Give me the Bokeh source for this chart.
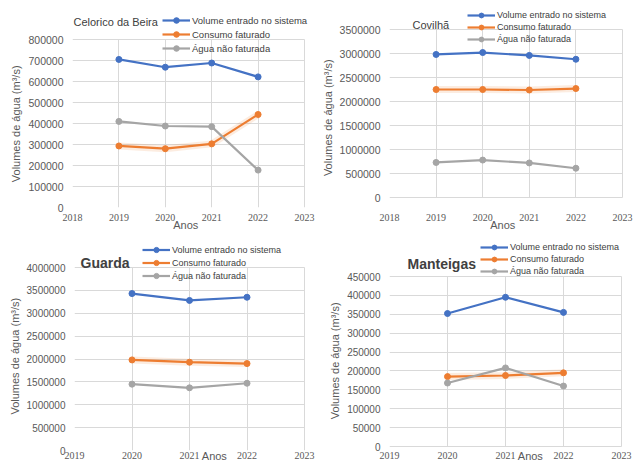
from bokeh.plotting import figure
from bokeh.layouts import column, row
from bokeh.models import Legend, LegendItem, Label, SingleIntervalTicker, Range1d, NumeralTickFormatter, Grid
from bokeh.embed import file_html
from bokeh.resources import INLINE

series_names = ["Volume entrado no sistema", "Consumo faturado", "Água não faturada"]
colors = ["#4472C4", "#ED7D31", "#A5A5A5"]

cel_years = [2019, 2020, 2021, 2022]
cel_volume = [705000, 668000, 688000, 622000]
cel_consumo = [293000, 280000, 303000, 443000]
cel_agua = [410000, 388000, 385000, 178000]

cov_years = [2019, 2020, 2021, 2022]
cov_volume = [2980000, 3020000, 2960000, 2880000]
cov_consumo = [2250000, 2250000, 2240000, 2270000]
cov_agua = [730000, 780000, 720000, 610000]

gua_years = [2020, 2021, 2022]
gua_volume = [3430000, 3280000, 3350000]
gua_consumo = [1980000, 1930000, 1900000]
gua_agua = [1450000, 1370000, 1470000]

man_years = [2020, 2021, 2022]
man_volume = [352000, 395000, 355000]
man_consumo = [185000, 188000, 195000]
man_agua = [168000, 208000, 160000]

X_LABEL = "Anos"
Y_LABEL = "Volumes de água (m³/s)"

FONT = "Liberation Sans"
FRAME_TOP = 3
W, H = 317, 234
NB = "\u00a0"
HAS_CROSS = "cross_bounds" in Grid.properties()


def panel(title, years, vals, xr, ymax, ystep, geom, xaxis_style, label_pads, title_pos, title_style,
          legend_pos, legend_row, legend_font, ytick_font):
    left, right, top_px, zero_px, frame_bottom = geom
    k = ymax / (zero_px - top_px)
    y_start = -(frame_bottom - zero_px) * k
    y_end = (zero_px - FRAME_TOP) * k
    x_end = xr[0] + (xr[1] - xr[0]) * (W - left) / (right - left)
    p = figure(width=W, height=H, output_backend="svg", toolbar_location=None,
               x_range=Range1d(xr[0], x_end), y_range=Range1d(y_start, y_end),
               min_border_left=left, min_border_top=FRAME_TOP,
               min_border_right=0, min_border_bottom=H - frame_bottom)
    p.outline_line_color = None
    p.background_fill_color = "white"
    p.border_fill_color = "white"
    p.xaxis.ticker = SingleIntervalTicker(interval=1)
    p.xaxis.bounds = xr
    p.yaxis.ticker = SingleIntervalTicker(interval=ystep)
    p.yaxis.formatter = NumeralTickFormatter(format="0")
    p.yaxis.bounds = (0, ymax)
    for ax in (p.xaxis[0], p.yaxis[0]):
        ax.axis_line_color = None
        ax.major_tick_line_color = None
        ax.minor_tick_line_color = None
        ax.major_tick_out = 0
        ax.major_tick_in = 0
        ax.minor_tick_out = 0
        ax.major_label_text_font = FONT
        ax.major_label_text_color = "#595959"
        ax.axis_label_text_font = FONT
        ax.axis_label_text_font_style = "normal"
        ax.axis_label_text_color = "#595959"
        ax.axis_label_text_font_size = "11px"
    tick_standoff, label_standoff = xaxis_style
    xl_left, xl_right, yl_end = label_pads
    p.xaxis.major_label_text_font = "Liberation Sans Narrow"
    p.xaxis.major_label_text_font_size = "10px"
    p.yaxis.major_label_text_font_size = ytick_font
    p.xaxis.major_label_standoff = tick_standoff
    p.xaxis.axis_label = NB * xl_left + X_LABEL + NB * xl_right
    p.xaxis.axis_label_standoff = label_standoff
    p.yaxis.axis_label = Y_LABEL + NB * yl_end
    p.yaxis.axis_label_standoff = 3
    p.yaxis.major_label_standoff = 9
    p.xgrid.grid_line_color = "#D9D9D9"
    p.ygrid.grid_line_color = "#D9D9D9"
    if HAS_CROSS:
        p.xgrid.cross_bounds = (0, ymax)
        p.ygrid.cross_bounds = xr
    else:
        p.xgrid.visible = False
        xt = list(range(xr[0], xr[1] + 1))
        p.segment(x0=xt, y0=[0] * len(xt), x1=xt, y1=[ymax] * len(xt), line_color="#D9D9D9", line_width=1)

    # soft glow behind the "Consumo faturado" line, as in the original
    p.line(years, vals[1], line_color=colors[1], line_width=7, line_alpha=0.15)

    items = []
    for name, v, c in zip(series_names, vals, colors):
        l = p.line(years, v, line_color=c, line_width=2.2)
        s = p.scatter(years, v, size=6, fill_color=c, line_color=c)
        items.append(LegendItem(label=name, renderers=[l, s]))
    lx, ly = legend_pos  # top-left of legend in panel coords
    leg = Legend(items=items, location=(lx - left, frame_bottom - (ly + 3 * legend_row)),
                 padding=0, spacing=0, margin=0, label_height=legend_row, glyph_height=legend_row,
                 glyph_width=28, label_standoff=2, label_text_font=FONT,
                 label_text_font_size=legend_font, label_text_color="#404040",
                 background_fill_alpha=0, border_line_color=None)
    p.add_layout(leg)
    tx, ty = title_pos
    fs, bold = title_style
    p.add_layout(Label(x=tx - left, y=frame_bottom - ty, x_units="screen", y_units="screen",
                       text=title, text_font=FONT, text_font_size=fs,
                       text_font_style="bold" if bold else "normal", text_color="#404040",
                       text_baseline="middle", text_align="left"))
    return p


ROW1_BOTTOM = 207
ROW2_BOTTOM = 216

p1 = panel("Celorico da Beira", cel_years, [cel_volume, cel_consumo, cel_agua], (2018, 2023), 800000, 100000,
           (72, 304, 39, 207, ROW1_BOTTOM), (6, -5), (0, 6, 12), (73, 21), ("11px", False),
           (162, 13), 14, "9.5px", "10.5px")
p2 = panel("Covilhã", cov_years, [cov_volume, cov_consumo, cov_agua], (2018, 2023), 3500000, 500000,
           (72, 305, 29, 197, ROW1_BOTTOM), (6, -5), (0, 6, 8), (95, 24), ("11px", False),
           (150, 9), 12, "9px", "10.5px")
p3 = panel("Guarda", gua_years, [gua_volume, gua_consumo, gua_agua], (2019, 2023), 4000000, 500000,
           (74, 304, 33, 216, ROW2_BOTTOM), (1, -12), (12, 0, 8), (80, 28), ("14px", True),
           (142, 9), 13, "9px", "10px")
p4 = panel("Manteigas", man_years, [man_volume, man_consumo, man_agua], (2019, 2023), 450000, 50000,
           (72, 304, 42, 212, ROW2_BOTTOM), (1, -12), (12, 0, 11), (90, 29), ("14px", True),
           (163, 7), 12, "9px", "10px")

layout = column(row(p1, p2, spacing=0), row(p3, p4, spacing=0), spacing=0)
open("out.html", "w").write(file_html(layout, INLINE))
